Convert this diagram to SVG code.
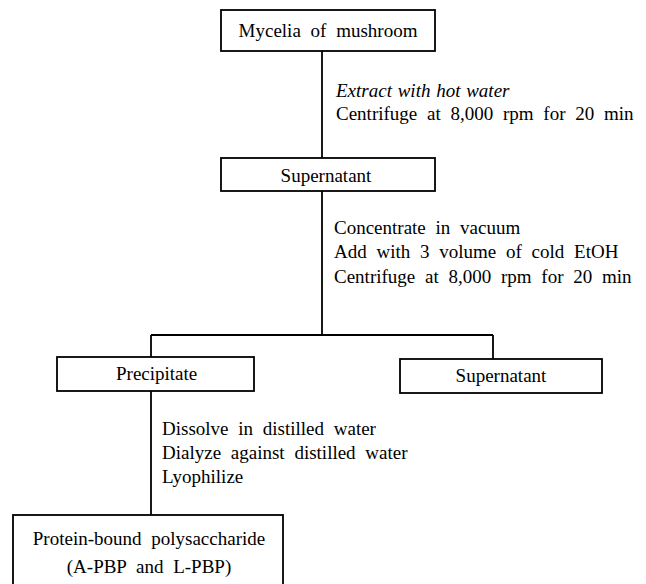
<svg xmlns="http://www.w3.org/2000/svg" width="646" height="584" viewBox="0 0 646 584">
<style>
.box{fill:#fff;stroke:#000;stroke-width:1.8}
.ln{fill:none;stroke:#000;stroke-width:1.8}
text{font-family:"Liberation Serif","Times New Roman",serif;font-size:19px;fill:#000;word-spacing:5px}
.c{text-anchor:middle}
.it{font-style:italic;word-spacing:1px}
</style>
<rect width="646" height="584" fill="#fff"/>
<g id="connectors">
<path class="ln" d="M322 51V158"/>
<path class="ln" d="M322 191V335M151 335H493M151 335V357M493 335V359"/>
<path class="ln" d="M151 391V515"/>
</g>
<g id="n-mycelia">
<rect class="box" x="221" y="10" width="214" height="41"/>
<text class="c" x="328" y="37">Mycelia of mushroom</text>
</g>
<g id="step1">
<text class="it" x="336" y="97">Extract with hot water</text>
<text x="336" y="120">Centrifuge at 8,000 rpm for 20 min</text>
</g>
<g id="n-supernatant1">
<rect class="box" x="221" y="158" width="214" height="33"/>
<text class="c" x="326" y="182">Supernatant</text>
</g>
<g id="step2">
<text x="334" y="234">Concentrate in vacuum</text>
<text x="334" y="258">Add with 3 volume of cold EtOH</text>
<text x="334" y="283">Centrifuge at 8,000 rpm for 20 min</text>
</g>
<g id="n-precipitate">
<rect class="box" x="57" y="357" width="197" height="34"/>
<text x="116" y="380">Precipitate</text>
</g>
<g id="n-supernatant2">
<rect class="box" x="400" y="359" width="202" height="34"/>
<text class="c" x="501" y="382">Supernatant</text>
</g>
<g id="step3">
<text x="162" y="435">Dissolve in distilled water</text>
<text x="162" y="459">Dialyze against distilled water</text>
<text x="162" y="483">Lyophilize</text>
</g>
<g id="n-pbp">
<rect class="box" x="13" y="515" width="270" height="72"/>
<text class="c" x="149" y="545">Protein-bound polysaccharide</text>
<text class="c" x="149" y="573">(A-PBP and L-PBP)</text>
</g>
</svg>
